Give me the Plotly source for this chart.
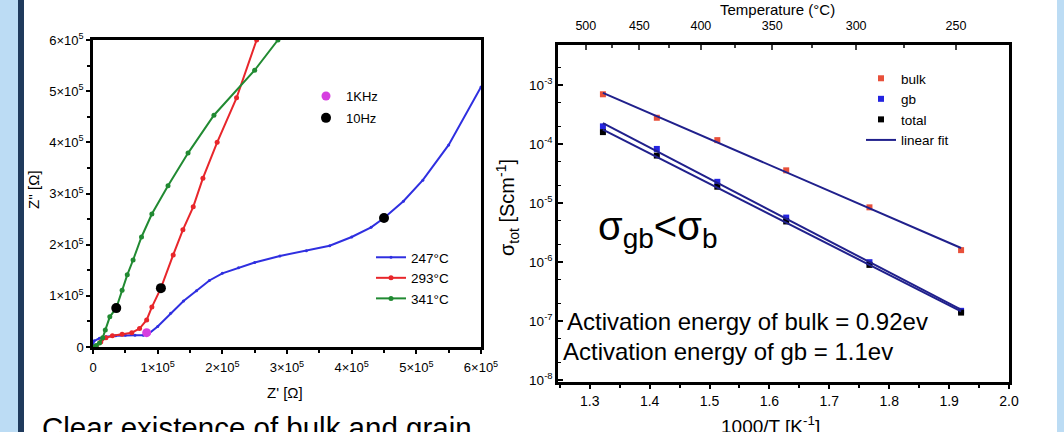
import numpy as np
import plotly.graph_objects as go

# ---------------- Nyquist data (Z', Z'' in ohm) ----------------
zre_247 = [0.0, 0.02e5, 0.10e5, 0.20e5, 0.35e5, 0.50e5, 0.65e5, 0.78e5, 0.85e5, 1.00e5, 1.20e5,
           1.40e5, 1.60e5, 1.80e5, 2.00e5, 2.25e5, 2.50e5, 2.89e5, 3.30e5, 3.66e5, 4.00e5,
           4.30e5, 4.50e5, 4.80e5, 5.10e5, 5.50e5, 6.00e5]
zim_247 = [0.05e5, 0.12e5, 0.17e5, 0.20e5, 0.22e5, 0.23e5, 0.23e5, 0.23e5, 0.25e5, 0.40e5, 0.66e5,
           0.90e5, 1.10e5, 1.30e5, 1.44e5, 1.55e5, 1.65e5, 1.78e5, 1.88e5, 1.98e5, 2.15e5,
           2.34e5, 2.52e5, 2.85e5, 3.26e5, 3.95e5, 5.08e5]

zre_293 = [0.05e5, 0.12e5, 0.20e5, 0.30e5, 0.45e5, 0.60e5, 0.72e5, 0.83e5, 0.91e5, 1.05e5, 1.24e5,
           1.39e5, 1.55e5, 1.70e5, 1.92e5, 2.22e5, 2.53e5]
zim_293 = [0.0, 0.10e5, 0.18e5, 0.22e5, 0.25e5, 0.28e5, 0.36e5, 0.53e5, 0.78e5, 1.15e5, 1.80e5,
           2.29e5, 2.74e5, 3.30e5, 4.00e5, 4.87e5, 6.00e5]

zre_341 = [0.0, 0.05e5, 0.10e5, 0.15e5, 0.19e5, 0.26e5, 0.36e5, 0.45e5, 0.53e5, 0.62e5, 0.75e5,
           0.91e5, 1.16e5, 1.47e5, 1.87e5, 2.50e5, 2.86e5]
zim_341 = [0.0, 0.03e5, 0.08e5, 0.18e5, 0.33e5, 0.59e5, 0.76e5, 1.11e5, 1.41e5, 1.70e5, 2.15e5,
           2.60e5, 3.15e5, 3.79e5, 4.53e5, 5.41e5, 6.00e5]

f1k_re = [0.83e5]
f1k_im = [0.28e5]
f10_re = [0.36e5, 1.05e5, 4.50e5]
f10_im = [0.76e5, 1.15e5, 2.52e5]

nyq_ticks = [0, 1e5, 2e5, 3e5, 4e5, 5e5, 6e5]
nyq_ticktext = ["0", "1×10<sup>5</sup>", "2×10<sup>5</sup>", "3×10<sup>5</sup>",
                "4×10<sup>5</sup>", "5×10<sup>5</sup>", "6×10<sup>5</sup>"]

# ---------------- Arrhenius data ----------------
inv_T = [1.322, 1.412, 1.513, 1.628, 1.767, 1.920]
sigma_bulk = [7.0e-4, 2.8e-4, 1.17e-4, 3.6e-5, 8.5e-6, 1.6e-6]
sigma_gb = [2.0e-4, 8.3e-5, 2.3e-5, 5.7e-6, 1.0e-6, 1.5e-7]
sigma_total = [1.6e-4, 6.4e-5, 1.9e-5, 4.9e-6, 9.0e-7, 1.4e-7]

log_ticks = [1e-8, 1e-7, 1e-6, 1e-5, 1e-4, 1e-3]
log_ticktext = ["10<sup>-8</sup>", "10<sup>-7</sup>", "10<sup>-6</sup>", "10<sup>-5</sup>",
                "10<sup>-4</sup>", "10<sup>-3</sup>"]
temp_C = [500, 450, 400, 350, 300, 250]
temp_minor_C = [475, 425, 375, 325, 275]

FONT = "Liberation Sans, Arial, sans-serif"
W, H = 1064, 432


def px(x):
    return x / W


def py(y):
    return 1 - y / H


fig = go.Figure()

# Nyquist curves
fig.add_trace(go.Scatter(x=zre_247, y=zim_247, mode="lines+markers", name="247°C",
                         line=dict(color="#2f2fe0", width=2), marker=dict(size=3, color="#2f2fe0"),
                         xaxis="x", yaxis="y", legend="legend2"))
fig.add_trace(go.Scatter(x=zre_293, y=zim_293, mode="lines+markers", name="293°C",
                         line=dict(color="#e8262b", width=2), marker=dict(size=5, color="#e8262b"),
                         xaxis="x", yaxis="y", legend="legend2"))
fig.add_trace(go.Scatter(x=zre_341, y=zim_341, mode="lines+markers", name="341°C",
                         line=dict(color="#218a32", width=2), marker=dict(size=5, color="#218a32"),
                         xaxis="x", yaxis="y", legend="legend2"))
fig.add_trace(go.Scatter(x=f1k_re, y=f1k_im, mode="markers", name="1KHz",
                         marker=dict(size=9, color="#d63ee0"), xaxis="x", yaxis="y",
                         legend="legend", legendgroup="a"))
fig.add_trace(go.Scatter(x=f10_re, y=f10_im, mode="markers", name="10Hz",
                         marker=dict(size=10, color="black"), xaxis="x", yaxis="y",
                         legend="legend", legendgroup="b"))

# Arrhenius markers
fig.add_trace(go.Scatter(x=inv_T, y=sigma_bulk, mode="markers", name="bulk",
                         marker=dict(symbol="square", size=6, color="#e8503a"),
                         xaxis="x2", yaxis="y2", legend="legend3"))
fig.add_trace(go.Scatter(x=inv_T, y=sigma_gb, mode="markers", name="gb",
                         marker=dict(symbol="square", size=6, color="#2424e0"),
                         xaxis="x2", yaxis="y2", legend="legend3"))
fig.add_trace(go.Scatter(x=inv_T, y=sigma_total, mode="markers", name="total",
                         marker=dict(symbol="square", size=6, color="black"),
                         xaxis="x2", yaxis="y2", legend="legend3"))

# linear fits in log space
xa = np.array(inv_T)
for i, s in enumerate([sigma_bulk, sigma_gb, sigma_total]):
    k, b = np.polyfit(xa, np.log10(s), 1)
    fit = 10 ** (k * xa + b)
    fig.add_trace(go.Scatter(x=inv_T, y=fit, mode="lines", name="linear fit",
                             line=dict(color="#20208c", width=2), legendgroup="fit",
                             showlegend=(i == 0), xaxis="x2", yaxis="y2", legend="legend3"))

# invisible trace for the top temperature axis
top_pos = [1000.0 / (t + 273.15) for t in temp_C]
top_minor = [1000.0 / (t + 273.15) for t in temp_minor_C]
fig.add_trace(go.Scatter(x=top_pos, y=[None] * len(top_pos), mode="markers", showlegend=False,
                         hoverinfo="skip", xaxis="x3", yaxis="y2"))

axis_common = dict(showgrid=False, zeroline=False, showline=True, linecolor="black",
                   linewidth=2.5, mirror=True, color="black", automargin=False)

fig.update_layout(
    width=W, height=H, margin=dict(l=0, r=0, t=0, b=0, autoexpand=False),
    paper_bgcolor="white", plot_bgcolor="white",
    font=dict(family=FONT, color="black", size=12),
    xaxis=dict(axis_common, domain=[px(93), px(481)], range=[0, 6e5], anchor="y",
               tickmode="array", tickvals=nyq_ticks, ticktext=nyq_ticktext,
               ticks="outside", ticklen=4, tickwidth=2, tickfont=dict(size=13),
               ticklabelstandoff=3,
               minor=dict(ticks="outside", ticklen=3, tickwidth=1.5, dtick=0.5e5, tick0=0)),
    yaxis=dict(axis_common, domain=[py(347), py(40)], range=[0, 6e5], anchor="x",
               tickmode="array", tickvals=nyq_ticks, ticktext=nyq_ticktext,
               ticks="outside", ticklen=4, tickwidth=2, tickfont=dict(size=13),
               minor=dict(ticks="outside", ticklen=3, tickwidth=1.5, dtick=0.5e5, tick0=0)),
    xaxis2=dict(axis_common, domain=[px(558), px(1009)], range=[1.247, 2.0], anchor="y2",
                mirror=False, dtick=0.1, tick0=1.3, tickformat=".1f",
                ticks="outside", ticklen=4, tickwidth=2, tickfont=dict(size=14),
                minor=dict(ticks="outside", ticklen=3, tickwidth=1.5, dtick=0.05, tick0=1.25)),
    xaxis3=dict(showgrid=False, zeroline=False, showline=True, linecolor="black", linewidth=2.5,
                overlaying="x2", side="top", anchor="y2", range=[1.247, 2.0], automargin=False,
                tickmode="array", tickvals=top_pos, ticktext=[str(t) for t in temp_C],
                ticks="inside", ticklen=5, tickwidth=2, tickfont=dict(size=12.5),
                ticklabelstandoff=7,
                minor=dict(tickmode="array", tickvals=top_minor, ticks="inside", ticklen=3,
                           tickwidth=1.5)),
    yaxis2=dict(axis_common, domain=[py(382), py(45)], type="log", range=[-8.03, -2.32],
                anchor="x2", tickmode="array", tickvals=log_ticks, ticktext=log_ticktext,
                ticks="inside", ticklen=5, tickwidth=2, tickfont=dict(size=13.5),
                minor=dict(ticks="inside", ticklen=3, tickwidth=1)),
    legend=dict(x=px(306), y=py(81), xanchor="left", yanchor="top", bgcolor="rgba(0,0,0,0)",
                font=dict(size=13), tracegroupgap=2, traceorder="grouped", itemwidth=30),
    legend2=dict(x=px(371), y=py(242), xanchor="left", yanchor="top", bgcolor="rgba(0,0,0,0)",
                 font=dict(size=13.5), itemwidth=30, tracegroupgap=0),
    legend3=dict(x=px(861), y=py(63), xanchor="left", yanchor="top", bgcolor="rgba(0,0,0,0)",
                 font=dict(size=13.5), itemwidth=30, tracegroupgap=0, traceorder="normal"),
    showlegend=True,
)

# slide decoration
fig.add_shape(type="rect", xref="paper", yref="paper", x0=0, x1=px(18), y0=0, y1=1,
              fillcolor="#bcdcf4", line=dict(width=0), layer="below")
fig.add_shape(type="rect", xref="paper", yref="paper", x0=px(18), x1=px(24), y0=0, y1=1,
              fillcolor="#1f3a5c", line=dict(width=0), layer="below")
fig.add_shape(type="rect", xref="paper", yref="paper", x0=px(1057), x1=1, y0=0, y1=1,
              fillcolor="#bcdcf4", line=dict(width=0), layer="below")

ann = [
    dict(text="Clear existence of bulk and grain", x=px(40), y=py(409), xanchor="left",
         yanchor="top", font=dict(size=29.5)),
    dict(text="σ<sub>gb</sub>&lt;σ<sub>b</sub>", x=px(596), y=py(229), xanchor="left",
         yanchor="middle", font=dict(size=40)),
    dict(text="Activation energy of bulk = 0.92ev", x=px(565), y=py(321), xanchor="left",
         yanchor="middle", font=dict(size=24)),
    dict(text="Activation energy of gb = 1.1ev", x=px(561), y=py(351), xanchor="left",
         yanchor="middle", font=dict(size=24)),
    dict(text="1000/T [K<sup>-1</sup>]", x=px(770), y=py(411), xanchor="center",
         yanchor="top", font=dict(size=19)),
    dict(text="Temperature (°C)", x=px(777), y=py(10), xanchor="center",
         yanchor="middle", font=dict(size=15)),
    dict(text="Z' [Ω]", x=px(285), y=py(392), xanchor="center",
         yanchor="middle", font=dict(size=15)),
    dict(text="Z'' [Ω]", x=px(33), y=py(190), xanchor="center", textangle=-90,
         yanchor="middle", font=dict(size=15)),
    dict(text="σ<sub>tot</sub> [Scm<sup>-1</sup>]", x=px(508), y=py(208), xanchor="center",
         textangle=-90, yanchor="middle", font=dict(size=20)),
]
for a in ann:
    fig.add_annotation(xref="paper", yref="paper", showarrow=False, **a)

fig.write_html("out.html")
